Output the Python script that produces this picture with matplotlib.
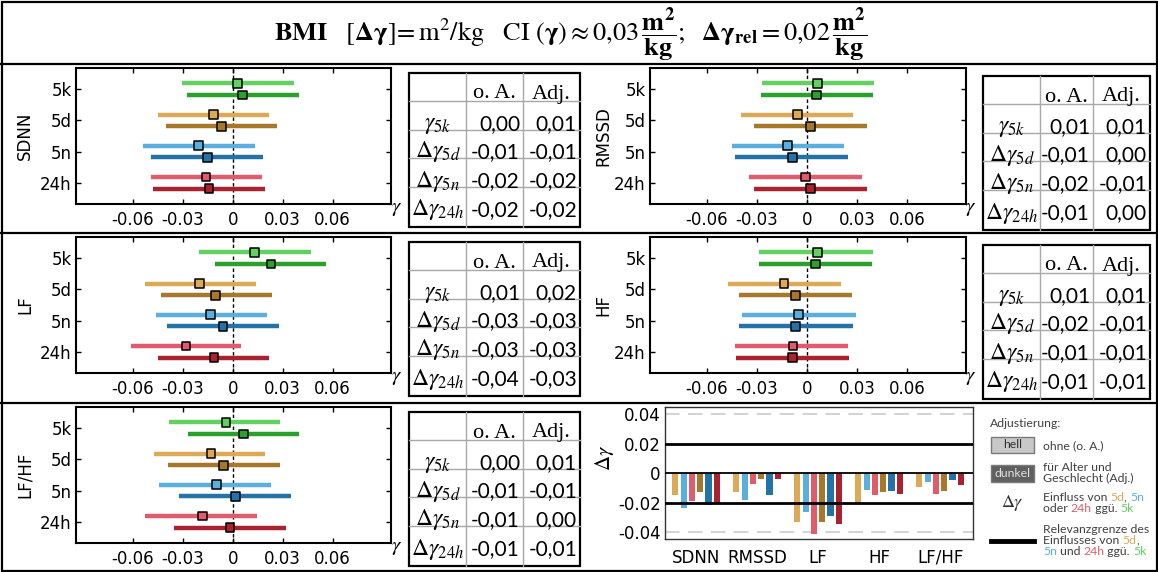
"""BMI: influence of the recording window on the HRV regression coefficients."""

import matplotlib.pyplot as plt
from matplotlib.patches import Rectangle

plt.rcParams["mathtext.fontset"] = "stix"
plt.rcParams["axes.unicode_minus"] = False

categories = ["5k", "5d", "5n", "24h"]
variables = ["SDNN", "RMSSD", "LF", "HF", "LF/HF"]
gamma_ticks = [-0.06, -0.03, 0, 0.03, 0.06]
delta_ticks = [0.04, 0.02, 0, -0.02, -0.04]
relevance_limit = 0.02
table_labels = [r"$\gamma_{5k}$", r"$\Delta\gamma_{5d}$", r"$\Delta\gamma_{5n}$", r"$\Delta\gamma_{24h}$"]

# (lower CI, estimate, upper CI) per category; oa = unadjusted, adj = age/sex adjusted
sdnn_oa = [(-0.0304, 0.0028, 0.0366), (-0.0450, -0.0116, 0.0220), (-0.0536, -0.0204, 0.0132), (-0.0492, -0.0160, 0.0176)]
sdnn_adj = [(-0.0274, 0.0060, 0.0396), (-0.0402, -0.0068, 0.0268), (-0.0488, -0.0152, 0.0182), (-0.0478, -0.0142, 0.0194)]
rmssd_oa = [(-0.0272, 0.0064, 0.0400), (-0.0394, -0.0060, 0.0276), (-0.0452, -0.0116, 0.0220), (-0.0346, -0.0010, 0.0326)]
rmssd_adj = [(-0.0278, 0.0056, 0.0392), (-0.0316, 0.0018, 0.0356), (-0.0430, -0.0088, 0.0242), (-0.0316, 0.0020, 0.0356)]
lf_oa = [(-0.0204, 0.0132, 0.0468), (-0.0528, -0.0198, 0.0138), (-0.0462, -0.0132, 0.0206), (-0.0612, -0.0280, 0.0052)]
lf_adj = [(-0.0104, 0.0230, 0.0560), (-0.0432, -0.0102, 0.0234), (-0.0392, -0.0058, 0.0278), (-0.0448, -0.0112, 0.0220)]
hf_oa = [(-0.0286, 0.0060, 0.0393), (-0.0476, -0.0138, 0.0201), (-0.0389, -0.0051, 0.0290), (-0.0434, -0.0085, 0.0245)]
hf_adj = [(-0.0288, 0.0052, 0.0389), (-0.0410, -0.0071, 0.0266), (-0.0407, -0.0069, 0.0272), (-0.0426, -0.0087, 0.0251)]
lfhf_oa = [(-0.0384, -0.0040, 0.0286), (-0.0474, -0.0130, 0.0196), (-0.0444, -0.0099, 0.0228), (-0.0524, -0.0182, 0.0144)]
lfhf_adj = [(-0.0270, 0.0064, 0.0400), (-0.0388, -0.0054, 0.0284), (-0.0320, 0.0016, 0.0352), (-0.0350, -0.0016, 0.0322)]

light_colors = ["#62d162", "#dcaa57", "#5aafdf", "#e05c6c"]
dark_colors = ["#2ca02c", "#a8782a", "#2372a8", "#a8232f"]

W, H = 1158, 572
ROW_TOPS = [64, 233, 403]
AX_X = [(76, 391), (650, 966)]
LABEL_X = [25, 603]
GAMMA_X = [397, 971]
TABLE_X = [(409, 466, 523, 580), (983, 1040, 1093, 1150)]
TABLE_TOP = [9, 12]


def px_axes(fig, x0, y0, x1, y1):
    return fig.add_axes([x0 / W, 1 - y1 / H, (x1 - x0) / W, (y1 - y0) / H])


def fmt(v):
    v = round(v, 2)
    if v == 0:
        v = 0.0
    return f"{v:.2f}".replace(".", ",")


def table_values(rows):
    base = rows[0][1]
    return [base] + [r[1] - base for r in rows[1:]]


def forest(ax, rows_oa, rows_adj):
    for rows, colors, offset in ((rows_oa, light_colors, -0.185), (rows_adj, dark_colors, 0.185)):
        ys = [i + offset for i in range(len(categories))]
        ax.hlines(ys, [r[0] for r in rows], [r[2] for r in rows], colors=colors, lw=3.2, zorder=2)
        ax.scatter([r[1] for r in rows], ys, marker="s", s=40, c=colors,
                   edgecolors="black", linewidths=1.1, zorder=3)
    ax.axvline(0, color="black", lw=1, ls=(0, (2.5, 1.8)), zorder=1)
    ax.set_xlim(-0.094, 0.095)
    ax.set_ylim(len(categories) - 1 + 0.68, -0.68)
    ax.set_yticks(range(len(categories)), categories)
    ax.set_xticks(gamma_ticks, [f"{t:g}" for t in gamma_ticks])
    ax.tick_params(direction="in", top=True, right=True, length=3.5, width=1, labelsize=12)
    ax.tick_params(axis="x", pad=5)
    ax.tick_params(axis="y", pad=3)
    for s in ax.spines.values():
        s.set_linewidth(1.5)


def draw_table(cv, x_edges, top, oa_vals, adj_vals):
    row_edges = [top + d for d in (0, 28, 57, 85, 114, 154)]
    text_y = [top + d for d in (21, 51, 79, 108, 137)]
    x0, x1, x2, x3 = x_edges
    for y in row_edges[1:-1]:
        cv.plot([x0, x3], [y, y], color="#a8a8a8", lw=1)
    for x in (x1, x2):
        cv.plot([x, x], [top, row_edges[-1]], color="#a8a8a8", lw=1)
    cv.add_patch(Rectangle((x0, top), x3 - x0, row_edges[-1] - top, fill=False, ec="black", lw=1.6))
    cv.text((x1 + x2) / 2, text_y[0], "o. A.", family="Liberation Serif", size=16, ha="center", va="center")
    cv.text((x2 + x3) / 2, text_y[0], "Adj.", family="Liberation Serif", size=16, ha="center", va="center")
    for label, ty, a, b in zip(table_labels, text_y[1:], oa_vals, adj_vals):
        cv.text((x0 + x1) / 2, ty, label, size=17, ha="center", va="center")
        cv.text(x2 - 3, ty, fmt(a), family="Lato", size=15, ha="right", va="center")
        cv.text(x3 - 3, ty, fmt(b), family="Lato", size=15, ha="right", va="center")


def delta_bars(ax, panels):
    xs, hs, cs = [], [], []
    bar_colors = light_colors[1:] + dark_colors[1:]
    for i, (rows_oa, rows_adj) in enumerate(panels):
        deltas = table_values(rows_oa)[1:] + table_values(rows_adj)[1:]
        for j, v in enumerate(deltas):
            xs.append(i + (j - 2.5) * 0.136)
            hs.append(v)
            cs.append(bar_colors[j])
    ax.bar(xs, hs, width=0.1, color=cs, zorder=2)
    for lim in (delta_ticks[0], delta_ticks[-1]):
        ax.axhline(lim, color="#d4d4d4", lw=1.5, dashes=(7, 4), zorder=1)
    for lim in (relevance_limit, -relevance_limit):
        ax.axhline(lim, color="black", lw=2, zorder=3)
    ax.axhline(0, color="black", lw=1.3, zorder=3)
    ax.set_xlim(-0.51, len(variables) - 1 + 0.54)
    ax.set_ylim(-0.0445, 0.045)
    ax.set_yticks(delta_ticks, [f"{t:g}" for t in delta_ticks])
    ax.set_xticks(range(len(variables)), variables)
    ax.tick_params(length=0, labelsize=12)
    ax.tick_params(axis="x", pad=7)
    ax.tick_params(axis="y", pad=3)
    for s in ax.spines.values():
        s.set_linewidth(1)
        s.set_color("#333333")


def main():
    fig = plt.figure(figsize=(W / 100, H / 100), dpi=100)

    panels = [(sdnn_oa, sdnn_adj), (rmssd_oa, rmssd_adj), (lf_oa, lf_adj),
              (hf_oa, hf_adj), (lfhf_oa, lfhf_adj)]
    slots = [(0, 0), (0, 1), (1, 0), (1, 1), (2, 0)]

    for (rows_oa, rows_adj), (row, col) in zip(panels, slots):
        rt = ROW_TOPS[row]
        ax = px_axes(fig, AX_X[col][0], rt + 4, AX_X[col][1], rt + 140)
        forest(ax, rows_oa, rows_adj)

    bar_ax = px_axes(fig, 665, 407, 973, 539)
    delta_bars(bar_ax, panels)

    cv = fig.add_axes([0, 0, 1, 1])
    cv.set_xlim(0, W)
    cv.set_ylim(H, 0)
    cv.axis("off")
    renderer = fig.canvas.get_renderer()

    # frame and row rules
    cv.add_patch(Rectangle((1.5, 1.5), W - 3, H - 3, fill=False, ec="black", lw=1.6, clip_on=False))
    for y in ROW_TOPS:
        cv.plot([0, W], [y, y], color="black", lw=1.6, clip_on=False)

    title = (r"$\mathbf{BMI}\quad[\mathbf{\Delta\gamma}]\!=\mathrm{m^2/kg}\quad\mathrm{CI}\ (\mathbf{\gamma})"
             r"\approx 0{,}03\,\dfrac{\mathbf{m}^{\mathbf{2}}}{\mathbf{kg}};\ \ \mathbf{\Delta\gamma}_{\mathbf{rel}}"
             r"=0{,}02\,\dfrac{\mathbf{m}^{\mathbf{2}}}{\mathbf{kg}}$")
    cv.text(W / 2 - 8, 35, title, ha="center", va="center", size=19)

    for (rows_oa, rows_adj), name, (row, col) in zip(panels, variables, slots):
        rt = ROW_TOPS[row]
        cv.text(LABEL_X[col], rt + 72, name, rotation=90, ha="center", va="center", size=12)
        cv.text(GAMMA_X[col], rt + 144, r"$\gamma$", ha="center", va="center", size=15)
        draw_table(cv, TABLE_X[col], rt + TABLE_TOP[col], table_values(rows_oa), table_values(rows_adj))

    cv.text(604, 458, r"$\Delta\gamma$", rotation=90, ha="center", va="center", size=15)

    # legend block
    grey = "#404040"
    kw = dict(family="Lato", size=8.8)

    def width(s):
        t = cv.text(0, 0, s + "|", **kw)
        w1 = t.get_window_extent(renderer).width
        t.remove()
        t = cv.text(0, 0, "|", **kw)
        w2 = t.get_window_extent(renderer).width
        t.remove()
        return w1 - w2

    def colored_line(x, y, parts):
        for s, c in parts:
            cv.text(x, y, s, color=c, ha="left", va="baseline", **kw)
            x += width(s)

    c5d, c5n, c24h, c5k = light_colors[1], light_colors[2], light_colors[3], light_colors[0]
    cv.text(990, 427, "Adjustierung:", color=grey, ha="left", va="baseline", **kw)
    cv.add_patch(Rectangle((991, 437), 43, 16, fc="#c8c8c8", ec="#7a7a7a", lw=1))
    cv.text(1012.5, 445, "hell", color="#303030", ha="center", va="center", **kw)
    cv.add_patch(Rectangle((991, 465), 43, 17, fc="#606060", ec="#7a7a7a", lw=1))
    cv.text(1012.5, 473.5, "dunkel", color="#e0e0e0", ha="center", va="center", **kw)
    colored_line(1043, 449, [("ohne (o. A.)", grey)])
    colored_line(1043, 471, [("für Alter und", grey)])
    colored_line(1043, 482, [("Geschlecht (Adj.)", grey)])
    cv.text(1012, 503, r"$\Delta\gamma$", color="#303030", ha="center", va="center", size=13)
    colored_line(1043, 501, [("Einfluss von ", grey), ("5d", c5d), (", ", grey), ("5n", c5n)])
    colored_line(1043, 512, [("oder ", grey), ("24h", c24h), (" ggü. ", grey), ("5k", c5k)])
    cv.plot([991, 1034], [541, 541], color="black", lw=3.5)
    colored_line(1043, 533, [("Relevanzgrenze des", grey)])
    colored_line(1043, 544, [("Einflusses von ", grey), ("5d", c5d), (",", grey)])
    colored_line(1043, 555, [("5n", c5n), (" und ", grey), ("24h", c24h), (" ggü. ", grey), ("5k", c5k)])

    fig.savefig("out.png", dpi=100)


if __name__ == "__main__":
    main()
